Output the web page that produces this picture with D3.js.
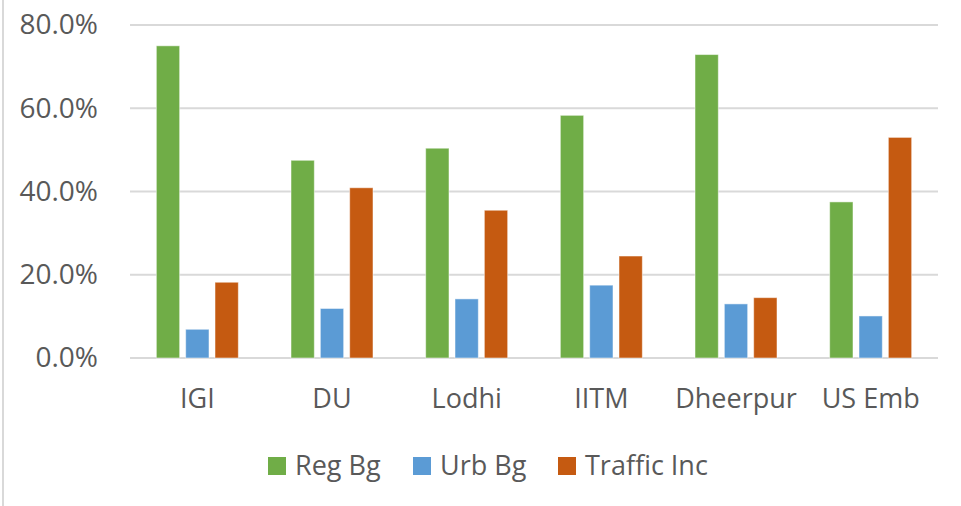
<!DOCTYPE html>
<html>
<head>
<meta charset="utf-8">
<script src="https://cdn.jsdelivr.net/npm/d3@7"></script>
<style>
  body { margin: 0; background: #fff; }
  svg text { font-family: "Open Sans", sans-serif; fill: #595959; }
</style>
</head>
<body>
<div id="chart"></div>
<script>
// data
var sites = ["IGI", "DU", "Lodhi", "IITM", "Dheerpur", "US Emb"];
var seriesNames = ["Reg Bg", "Urb Bg", "Traffic Inc"];
var regBg = [0.750, 0.475, 0.504, 0.583, 0.729, 0.375];
var urbBg = [0.069, 0.119, 0.142, 0.175, 0.130, 0.101];
var trafficInc = [0.182, 0.409, 0.355, 0.245, 0.145, 0.530];
var yTicks = [0, 0.2, 0.4, 0.6, 0.8];
var colors = ["#70AD47", "#5B9BD5", "#C55A11"];

var W = 961, H = 506;
var plotLeft = 130, plotRight = 938, plotTop = 25, plotBottom = 358;

var svg = d3.select("#chart").append("svg")
    .attr("width", W)
    .attr("height", H);

// left border of the chart frame
svg.append("line")
    .attr("x1", 3).attr("x2", 3)
    .attr("y1", 0).attr("y2", H)
    .style("stroke", "#d9d9d9")
    .style("stroke-width", 2);

var y = d3.scaleLinear()
    .domain([0, 0.8])
    .range([plotBottom, plotTop]);

var x0 = d3.scaleBand()
    .domain(sites)
    .range([plotLeft, plotRight])
    .padding(0);

var groupW = 82;
var x1 = d3.scaleBand()
    .domain(seriesNames)
    .range([0, groupW])
    .paddingInner(0.205);

var color = d3.scaleOrdinal()
    .domain(seriesNames)
    .range(colors);

// gridlines
svg.selectAll("grid")
    .data(yTicks)
    .enter()
    .append("line")
    .attr("x1", plotLeft)
    .attr("x2", plotRight)
    .attr("y1", function(d){ return y(d); })
    .attr("y2", function(d){ return y(d); })
    .style("stroke", "#d9d9d9")
    .style("stroke-width", 2);

// y axis labels
var yAxis = d3.axisLeft(y)
    .tickValues(yTicks)
    .tickFormat(d3.format(".1%"))
    .tickSize(0)
    .tickPadding(0);

var gy = svg.append("g")
    .attr("transform", "translate(98,0)")
    .call(yAxis);
gy.select(".domain").remove();
gy.selectAll("text")
    .style("font-size", "28px")
    .style("font-family", "Open Sans")
    .attr("fill", "#595959");

// x axis labels
var xAxis = d3.axisBottom(x0).tickSize(0).tickPadding(0);
var gx = svg.append("g")
    .attr("transform", "translate(0,389)")
    .call(xAxis);
gx.select(".domain").remove();
gx.selectAll("text")
    .style("font-size", "27px")
    .style("font-family", "Open Sans")
    .attr("fill", "#595959");

// bars
var rows = sites.map(function(s, i) {
    return { site: s, values: [regBg[i], urbBg[i], trafficInc[i]] };
});

var groups = svg.selectAll("barGroup")
    .data(rows)
    .enter()
    .append("g")
    .attr("transform", function(d){
        return "translate(" + (x0(d.site) + (x0.bandwidth() - groupW) / 2) + ",0)";
    });

groups.selectAll("rect")
    .data(function(d){
        return d.values.map(function(v, k){ return { name: seriesNames[k], value: v }; });
    })
    .enter()
    .append("rect")
    .attr("x", function(d){ return x1(d.name); })
    .attr("width", x1.bandwidth())
    .attr("y", function(d){ return y(d.value); })
    .attr("height", function(d){ return plotBottom - y(d.value); })
    .attr("fill", function(d){ return color(d.name); })
    .style("stroke", "#fff")
    .style("stroke-opacity", 0.5)
    .style("stroke-width", 1);

// legend
var legendX = [268, 413, 558];
var legend = svg.selectAll("legendItem")
    .data(seriesNames)
    .enter()
    .append("g")
    .attr("transform", function(d, i){ return "translate(" + legendX[i] + ",457)"; });

legend.append("rect")
    .attr("width", 18)
    .attr("height", 18)
    .attr("fill", function(d){ return color(d); });

legend.append("text")
    .attr("x", 27)
    .attr("y", 9)
    .attr("dy", "0.35em")
    .style("font-size", "27px")
    .text(function(d){ return d; });
</script>
</body>
</html>
